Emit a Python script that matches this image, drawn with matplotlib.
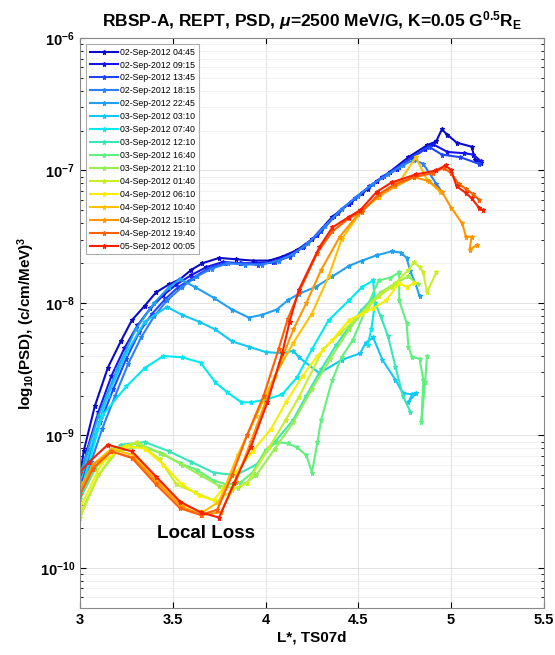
import numpy as np
import matplotlib
matplotlib.use("Agg")
import matplotlib.pyplot as plt
from matplotlib.ticker import FixedLocator, NullFormatter

plt.rcParams["font.family"] = ["Liberation Sans", "DejaVu Sans"]
plt.rcParams["mathtext.fontset"] = "custom"
plt.rcParams["mathtext.rm"] = "Liberation Sans:bold"
plt.rcParams["mathtext.it"] = "Liberation Sans:bold:italic"
plt.rcParams["mathtext.bf"] = "Liberation Sans:bold"

LABELS = [
    "02-Sep-2012 04:45", "02-Sep-2012 09:15", "02-Sep-2012 13:45",
    "02-Sep-2012 18:15", "02-Sep-2012 22:45", "03-Sep-2012 03:10",
    "03-Sep-2012 07:40", "03-Sep-2012 12:10", "03-Sep-2012 16:40",
    "03-Sep-2012 21:10", "04-Sep-2012 01:40", "04-Sep-2012 06:10",
    "04-Sep-2012 10:40", "04-Sep-2012 15:10", "04-Sep-2012 19:40",
    "05-Sep-2012 00:05",
]

COLORS = [
    "#0a0ac8", "#1414f0", "#1e46ff", "#2a80ff", "#22a0f0", "#14c8f4",
    "#00eaf0", "#38e6b8", "#60f080", "#98ee50", "#c8ee28", "#f8ee00",
    "#ffc000", "#ff9600", "#ff6000", "#f82000",
]

# L* values and log10(PSD) values for each pass
L01 = [3.00, 3.02, 3.08, 3.15, 3.22, 3.28, 3.35, 3.41, 3.48, 3.54, 3.60, 3.66, 3.75, 3.84, 3.93, 4.02,
       4.09, 4.17, 4.25, 4.36, 4.45, 4.52, 4.60, 4.67, 4.77, 4.87, 4.92, 4.95, 4.98, 5.03, 5.11, 5.13, 5.16]
P01 = [-9.32, -9.12, -8.78, -8.49, -8.29, -8.13, -8.02, -7.92, -7.86, -7.82, -7.75, -7.70, -7.66, -7.67,
       -7.68, -7.68, -7.65, -7.60, -7.52, -7.35, -7.25, -7.17, -7.08, -7.01, -6.90, -6.81, -6.78, -6.69,
       -6.73, -6.79, -6.82, -6.92, -6.94]
L02 = [3.00, 3.04, 3.10, 3.17, 3.24, 3.31, 3.38, 3.45, 3.52, 3.60, 3.68, 3.77, 3.86, 3.95, 4.04, 4.12,
       4.20, 4.28, 4.37, 4.46, 4.55, 4.63, 4.71, 4.79, 4.86, 4.90, 4.98, 5.07, 5.12, 5.16]
P02 = [-9.35, -9.10, -8.82, -8.55, -8.34, -8.17, -8.04, -7.94, -7.86, -7.79, -7.73, -7.69, -7.70, -7.70,
       -7.69, -7.64, -7.58, -7.49, -7.34, -7.24, -7.14, -7.05, -6.99, -6.90, -6.84, -6.80, -6.86, -6.87,
       -6.88, -6.93]
L03 = [3.00, 3.05, 3.11, 3.18, 3.25, 3.32, 3.39, 3.46, 3.53, 3.61, 3.69, 3.78, 3.87, 3.96, 4.05, 4.13,
       4.21, 4.30, 4.39, 4.48, 4.56, 4.64, 4.72, 4.80, 4.88, 4.95, 5.05, 5.15]
P03 = [-9.40, -9.15, -8.90, -8.65, -8.42, -8.22, -8.08, -7.97, -7.88, -7.81, -7.74, -7.70, -7.70, -7.71,
       -7.69, -7.65, -7.57, -7.46, -7.32, -7.21, -7.12, -7.04, -6.97, -6.89, -6.82, -6.88, -6.90, -6.95]
L04 = [3.00, 3.06, 3.12, 3.19, 3.26, 3.33, 3.40, 3.47, 3.55, 3.63, 3.71, 3.80, 3.89, 3.98, 4.07, 4.15,
       4.23, 4.32, 4.41, 4.50, 4.58, 4.66, 4.74, 4.80, 4.85, 4.92, 4.95]
P04 = [-9.42, -9.20, -8.95, -8.70, -8.46, -8.26, -8.10, -7.98, -7.88, -7.80, -7.74, -7.70, -7.71, -7.71,
       -7.68, -7.63, -7.55, -7.42, -7.29, -7.19, -7.10, -7.03, -6.96, -6.92, -6.95, -7.10, -7.16]
L05 = [3.00, 3.10, 3.20, 3.30, 3.40, 3.48, 3.54, 3.62, 3.72, 3.82, 3.91, 3.98, 4.06, 4.12, 4.18, 4.27,
       4.36, 4.45, 4.52, 4.60, 4.68, 4.73, 4.76, 4.78, 4.81, 4.83]
P05 = [-9.30, -8.85, -8.50, -8.20, -8.00, -7.88, -7.82, -7.88, -7.96, -8.05, -8.11, -8.09, -8.05, -7.98,
       -7.93, -7.88, -7.80, -7.72, -7.68, -7.64, -7.61, -7.62, -7.66, -7.76, -7.86, -7.95]
L06 = [3.00, 3.08, 3.15, 3.25, 3.35, 3.47, 3.55, 3.64, 3.73, 3.82, 3.91, 4.00, 4.09, 4.15, 4.18, 4.29,
       4.41, 4.51, 4.54, 4.58, 4.63, 4.70, 4.74, 4.79, 4.77, 4.81]
P06 = [-9.35, -9.00, -8.70, -8.38, -8.14, -8.03, -8.09, -8.14, -8.20, -8.29, -8.33, -8.37, -8.38, -8.36,
       -8.41, -8.53, -8.43, -8.38, -8.30, -8.26, -8.43, -8.58, -8.68, -8.69, -8.75, -8.68]
L07 = [3.00, 3.12, 3.25, 3.35, 3.45, 3.55, 3.65, 3.73, 3.79, 3.87, 3.92, 4.00, 4.09, 4.17, 4.25, 4.34,
       4.45, 4.52, 4.58, 4.59, 4.57, 4.55]
P07 = [-9.45, -8.85, -8.63, -8.49, -8.40, -8.41, -8.45, -8.60, -8.67, -8.75, -8.75, -8.73, -8.69, -8.56,
       -8.35, -8.13, -7.98, -7.88, -7.83, -8.00, -8.20, -8.32]
L08 = [3.00, 3.10, 3.22, 3.35, 3.48, 3.60, 3.72, 3.84, 3.95, 4.05, 4.15, 4.22, 4.30, 4.38, 4.45, 4.52,
       4.58, 4.62, 4.66, 4.70, 4.74, 4.78]
P08 = [-9.48, -9.20, -9.07, -9.05, -9.12, -9.20, -9.28, -9.30, -9.22, -9.05, -8.88, -8.70, -8.50, -8.32,
       -8.18, -8.05, -7.96, -8.10, -8.25, -8.48, -8.70, -8.82]
L09 = [3.00, 3.08, 3.18, 3.31, 3.43, 3.54, 3.63, 3.72, 3.79, 3.86, 3.93, 4.00, 4.06, 4.12, 4.17, 4.22,
       4.25, 4.28, 4.30, 4.36, 4.41, 4.47, 4.54, 4.61, 4.67, 4.72, 4.72, 4.76, 4.77, 4.79, 4.83, 4.85,
       4.84, 4.86, 4.87]
P09 = [-9.45, -9.25, -9.10, -9.06, -9.13, -9.21, -9.26, -9.34, -9.37, -9.36, -9.28, -9.11, -9.05, -9.06,
       -9.09, -9.15, -9.28, -9.05, -8.88, -8.58, -8.41, -8.28, -8.05, -7.83, -7.81, -7.77, -7.98, -8.15,
       -8.33, -8.41, -8.42, -8.58, -8.90, -8.60, -8.40]
L10 = [3.00, 3.10, 3.20, 3.33, 3.45, 3.55, 3.65, 3.75, 3.85, 3.95, 4.05, 4.15, 4.25, 4.35, 4.45, 4.55,
       4.62, 4.70, 4.77, 4.82]
P10 = [-9.60, -9.30, -9.12, -9.08, -9.14, -9.22, -9.30, -9.38, -9.40, -9.30, -9.10, -8.90, -8.65, -8.42,
       -8.20, -8.02, -7.92, -7.85, -7.80, -7.86]
L11 = [3.00, 3.10, 3.20, 3.31, 3.43, 3.52, 3.62, 3.74, 3.82, 3.90, 4.02, 4.11, 4.18, 4.31, 4.40, 4.54,
       4.61, 4.68, 4.77, 4.80, 4.83, 4.85, 4.87, 4.92]
P11 = [-9.62, -9.30, -9.10, -9.05, -9.18, -9.37, -9.43, -9.50, -9.41, -9.36, -9.09, -8.88, -8.71, -8.35,
       -8.23, -8.05, -7.95, -7.88, -7.75, -7.69, -7.73, -7.77, -7.92, -7.77]
L12 = [3.00, 3.12, 3.25, 3.35, 3.45, 3.55, 3.64, 3.72, 3.84, 3.93, 4.03, 4.11, 4.20, 4.28, 4.36, 4.45,
       4.52, 4.58, 4.65, 4.72, 4.76, 4.80]
P12 = [-9.55, -9.20, -9.08, -9.10, -9.22, -9.37, -9.45, -9.49, -9.28, -9.12, -8.95, -8.75, -8.55, -8.40,
       -8.28, -8.13, -8.08, -8.04, -7.98, -7.85, -7.88, -7.85]
L13 = [3.00, 3.07, 3.17, 3.29, 3.42, 3.55, 3.66, 3.75, 3.85, 3.95, 4.05, 4.15, 4.25, 4.34, 4.41, 4.52,
       4.61, 4.72, 4.81, 4.87, 4.94]
P13 = [-9.40, -9.22, -9.10, -9.15, -9.34, -9.52, -9.58, -9.50, -9.15, -8.85, -8.55, -8.30, -8.08, -7.80,
       -7.52, -7.30, -7.20, -7.09, -6.90, -7.07, -7.16]
L14 = [3.00, 3.07, 3.17, 3.29, 3.42, 3.55, 3.66, 3.76, 3.84, 3.92, 4.00, 4.08, 4.15, 4.22, 4.30, 4.40,
       4.50, 4.60, 4.70, 4.80, 4.88, 4.95, 5.00, 5.06, 5.08, 5.11, 5.10, 5.14]
P14 = [-9.42, -9.22, -9.12, -9.17, -9.36, -9.54, -9.60, -9.58, -9.35, -9.05, -8.75, -8.45, -8.20, -8.00,
       -7.75, -7.50, -7.33, -7.20, -7.12, -7.05, -7.08, -7.16, -7.28, -7.40, -7.50, -7.50, -7.60, -7.56]
L15 = [3.00, 3.07, 3.17, 3.28, 3.41, 3.54, 3.65, 3.74, 3.82, 3.90, 3.99, 4.07, 4.12, 4.18, 4.28, 4.36,
       4.45, 4.52, 4.61, 4.70, 4.80, 4.90, 4.96, 5.00, 5.04, 5.08, 5.12, 5.15]
P15 = [-9.45, -9.25, -9.12, -9.17, -9.37, -9.55, -9.60, -9.56, -9.30, -9.00, -8.70, -8.35, -8.12, -7.92,
       -7.62, -7.46, -7.36, -7.31, -7.18, -7.10, -7.05, -7.02, -6.98, -7.02, -7.10, -7.14, -7.18, -7.22]
L16 = [3.00, 3.05, 3.15, 3.28, 3.41, 3.54, 3.65, 3.75, 3.83, 3.92, 4.01, 4.09, 4.13, 4.18, 4.29, 4.36,
       4.45, 4.51, 4.60, 4.68, 4.81, 4.92, 4.97, 5.00, 5.03, 5.08, 5.11, 5.15, 5.17]
P16 = [-9.28, -9.20, -9.07, -9.12, -9.31, -9.50, -9.58, -9.62, -9.36, -9.09, -8.75, -8.38, -8.14, -7.90,
       -7.58, -7.43, -7.35, -7.30, -7.16, -7.09, -7.03, -7.00, -6.96, -7.00, -7.12, -7.17, -7.21, -7.28,
       -7.30]

L_ALL = [L01, L02, L03, L04, L05, L06, L07, L08, L09, L10, L11, L12, L13, L14, L15, L16]
P_ALL = [P01, P02, P03, P04, P05, P06, P07, P08, P09, P10, P11, P12, P13, P14, P15, P16]

fig = plt.figure(figsize=(5.55, 6.55), dpi=100)
ax = fig.add_axes([0.144, 0.072, 0.836, 0.870])

for lv, pv, col, lab in zip(L_ALL, P_ALL, COLORS, LABELS):
    ax.semilogy(lv, 10.0 ** np.array(pv), "-*", color=col, lw=1.5,
                ms=3.6, mew=0.8, label=lab)

ax.set_xlim(3, 5.5)
ax.set_ylim(5e-11, 1e-6)
ax.set_xticks([3, 3.5, 4, 4.5, 5, 5.5])
ax.set_xticklabels(["3", "3.5", "4", "4.5", "5", "5.5"])

major_y = [1e-10, 1e-9, 1e-8, 1e-7, 1e-6]
minor_y = [k * 10.0 ** e for e in range(-11, -6) for k in range(2, 10)
           if 5e-11 <= k * 10.0 ** e < 1e-6]
ax.yaxis.set_major_locator(FixedLocator(major_y))
ax.yaxis.set_minor_locator(FixedLocator(minor_y))
ax.yaxis.set_minor_formatter(NullFormatter())
ax.tick_params(direction="in", which="both", top=True, right=True, labelsize=10.5)
ax.tick_params(which="major", length=4)
ax.tick_params(which="minor", length=2)
for t in ax.get_xticklabels() + ax.get_yticklabels():
    t.set_fontweight("bold")
ax.grid(True, which="major", color="#dddddd", lw=0.6)
ax.grid(True, which="minor", axis="y", color="#ececec", lw=0.5)
for s in ax.spines.values():
    s.set_color("#888888")
    s.set_linewidth(0.8)

ax.set_title(r"RBSP-A, REPT, PSD, $\mu$=2500 MeV/G, K=0.05 G$^{0.5}$R$_\mathrm{E}$",
             fontsize=12.5, fontweight="bold", pad=8)
ax.set_xlabel("L*, TS07d", fontsize=11, fontweight="bold", labelpad=3)
ax.set_ylabel(r"log$_{10}$(PSD), (c/cm/MeV)$^3$", fontsize=11, fontweight="bold",
              labelpad=2)

ax.text(3.68, 10 ** -9.74, "Local Loss", ha="center", va="center",
        fontsize=13.5, fontweight="bold")

leg = ax.legend(loc="upper left", fontsize=6.3, frameon=True, fancybox=False,
                borderpad=0.4, labelspacing=0.45, handlelength=3.2,
                handletextpad=0.3, borderaxespad=0.7)
leg.get_frame().set_edgecolor("#999999")
leg.get_frame().set_linewidth(0.8)

fig.savefig("out.png", dpi=100)
